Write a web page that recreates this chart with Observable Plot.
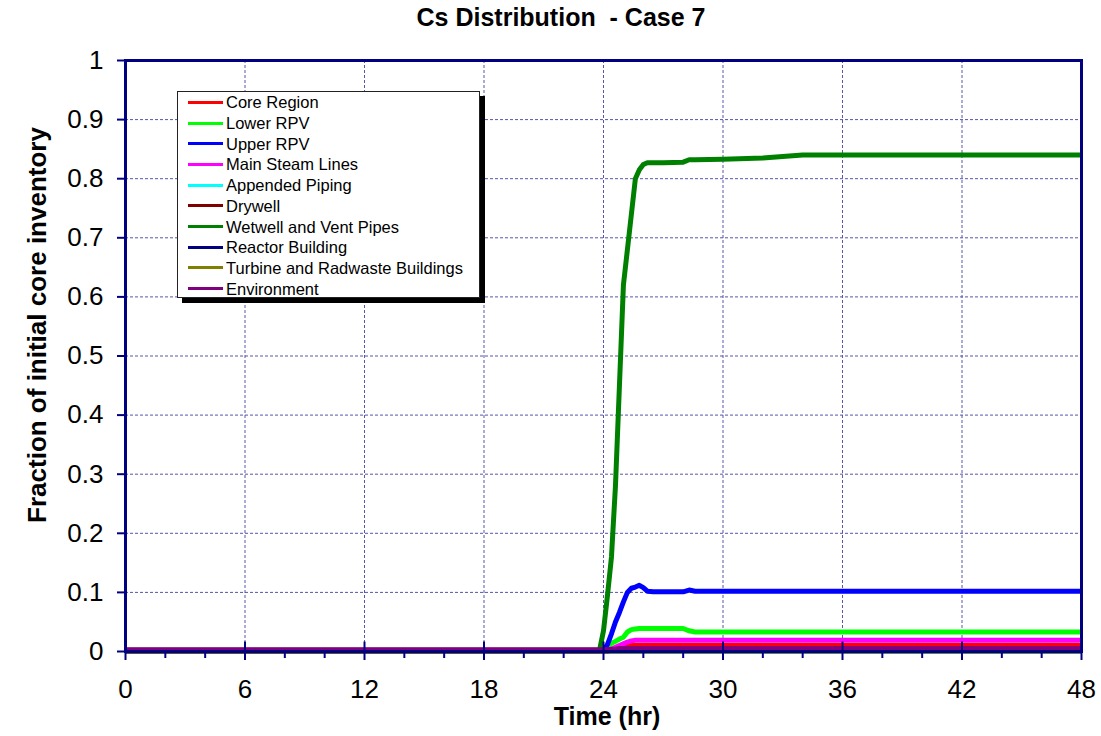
<!DOCTYPE html>
<html><head><meta charset="utf-8">
<script src="https://cdn.jsdelivr.net/npm/d3@7"></script>
<script src="https://cdn.jsdelivr.net/npm/@observablehq/plot@0.6"></script>
<style>
body{margin:0;background:#fff;}
#wrap{position:relative;width:1101px;height:736px;font-family:"Liberation Sans",Arial,sans-serif;overflow:hidden;}
#title{position:absolute;left:0;width:1122px;top:4px;text-align:center;white-space:pre;font-family:"Liberation Sans",Arial,sans-serif;font-weight:bold;font-size:25px;line-height:1.1;}
#ytitle{position:absolute;left:37px;top:325px;transform:translate(-50%,-50%) rotate(-90deg);white-space:nowrap;font-weight:bold;font-size:26px;line-height:1;}
#xtitle{position:absolute;left:607px;top:704px;transform:translateX(-50%);white-space:nowrap;font-weight:bold;font-size:25px;line-height:1;}
#legend{position:absolute;left:177px;top:91px;width:301px;height:205px;border:1px solid #222;background:#fff;box-shadow:5px 5px 0 #000;}
.row{position:absolute;left:0;height:20px;font-size:16.5px;line-height:20px;white-space:nowrap;}
.row span.sw{position:absolute;left:10px;top:8.5px;width:35px;height:3px;}
.row span.tx{position:absolute;left:48px;top:0;}
#chart{position:absolute;left:0;top:0;}
</style></head>
<body>
<div id="wrap">
  <div id="chart"></div>
  <div id="title">Cs Distribution  - Case 7</div>
  <div id="ytitle">Fraction of initial core inventory</div>
  <div id="xtitle">Time (hr)</div>
  <div id="legend"></div>
</div>
<script>
// ---- data ----
const seriesNames = ["Core Region","Lower RPV","Upper RPV","Main Steam Lines","Appended Piping","Drywell","Wetwell and Vent Pipes","Reactor Building","Turbine and Radwaste Buildings","Environment"];
const seriesColors = ["#ff0000","#00ff00","#0000ff","#ff00ff","#00ffff","#800000","#008000","#000080","#808000","#800080"];

const times        = [0,     23.8,  24.0,  24.2,  24.4,  24.6,  24.8,  25.0,  25.2,  25.4,  25.6,  25.8,  26.0,  26.2,  26.5,  27.0,  28.0,  28.3,  28.6,  30,    32,    34,    36,    42,    48];
const coreRegion   = [0.001, 0.001, 0.001, 0.001, 0.002, 0.003, 0.005, 0.008, 0.009, 0.010, 0.010, 0.010, 0.010, 0.010, 0.010, 0.010, 0.010, 0.010, 0.010, 0.010, 0.010, 0.010, 0.010, 0.010, 0.010];
const lowerRPV     = [0.001, 0.001, 0.002, 0.010, 0.014, 0.017, 0.021, 0.024, 0.033, 0.037, 0.038, 0.039, 0.039, 0.039, 0.039, 0.039, 0.039, 0.035, 0.033, 0.033, 0.033, 0.033, 0.033, 0.033, 0.033];
const upperRPV     = [0.001, 0.001, 0.002, 0.012, 0.030, 0.050, 0.066, 0.084, 0.100, 0.107, 0.109, 0.112, 0.108, 0.102, 0.101, 0.101, 0.101, 0.104, 0.102, 0.102, 0.102, 0.102, 0.102, 0.102, 0.102];
const mainSteam    = [0.001, 0.001, 0.001, 0.002, 0.004, 0.007, 0.010, 0.013, 0.016, 0.018, 0.019, 0.019, 0.019, 0.019, 0.019, 0.019, 0.019, 0.019, 0.019, 0.019, 0.019, 0.019, 0.019, 0.019, 0.019];
const appended     = [0.001, 0.001, 0.001, 0.001, 0.001, 0.001, 0.001, 0.001, 0.001, 0.001, 0.001, 0.001, 0.001, 0.001, 0.001, 0.001, 0.001, 0.001, 0.001, 0.001, 0.001, 0.001, 0.001, 0.001, 0.001];
const drywell      = [0.001, 0.001, 0.001, 0.001, 0.002, 0.002, 0.003, 0.003, 0.003, 0.003, 0.003, 0.003, 0.003, 0.003, 0.003, 0.003, 0.003, 0.003, 0.003, 0.003, 0.003, 0.003, 0.003, 0.003, 0.003];
const wetwell      = [0.002, 0.002, 0.035, 0.095, 0.160, 0.280, 0.450, 0.620, 0.680, 0.740, 0.800, 0.815, 0.824, 0.827, 0.827, 0.827, 0.828, 0.832, 0.832, 0.833, 0.835, 0.840, 0.840, 0.840, 0.840];
const reactorBldg  = [0.001, 0.001, 0.001, 0.001, 0.001, 0.001, 0.001, 0.001, 0.001, 0.001, 0.001, 0.001, 0.001, 0.001, 0.001, 0.001, 0.001, 0.001, 0.001, 0.001, 0.001, 0.001, 0.001, 0.001, 0.001];
const turbineBldg  = [0.001, 0.001, 0.001, 0.001, 0.001, 0.001, 0.001, 0.001, 0.001, 0.001, 0.001, 0.001, 0.001, 0.001, 0.001, 0.001, 0.001, 0.001, 0.001, 0.001, 0.001, 0.001, 0.001, 0.001, 0.001];
const environment  = [0.003, 0.003, 0.003, 0.003, 0.004, 0.004, 0.005, 0.005, 0.005, 0.005, 0.005, 0.005, 0.005, 0.005, 0.005, 0.005, 0.005, 0.005, 0.005, 0.005, 0.005, 0.005, 0.005, 0.005, 0.005];

const xTicks = [0, 6, 12, 18, 24, 30, 36, 42, 48];
const xMinorTicks = [2, 4, 8, 10, 14, 16, 20, 22, 26, 28, 32, 34, 38, 40, 44, 46];
const yTicks = [0, 0.1, 0.2, 0.3, 0.4, 0.5, 0.6, 0.7, 0.8, 0.9, 1];

// ---- build table ----
const seriesValues = [coreRegion, lowerRPV, upperRPV, mainSteam, appended, drywell, wetwell, reactorBldg, turbineBldg, environment];
const data = seriesNames.flatMap((name, k) => times.map((t, i) => ({t, v: seriesValues[k][i], name})));

const navy = "#000080";
const chart = Plot.plot({
  width: 1101, height: 736,
  marginLeft: 125, marginRight: 20, marginTop: 60, marginBottom: 85,
  x: {domain: [0, 48]},
  y: {domain: [0, 1]},
  color: {domain: seriesNames, range: seriesColors},
  style: {fontFamily: "'Liberation Sans', Arial, sans-serif", fontSize: "26px", color: "#000", background: "transparent"},
  marks: [
    Plot.gridX(xTicks, {stroke: "#5656aa", strokeOpacity: 1, strokeWidth: 1, strokeDasharray: "3,2"}),
    Plot.gridY(yTicks, {stroke: "#5656aa", strokeOpacity: 1, strokeWidth: 1, strokeDasharray: "3,2"}),
    Plot.line(data, {x: "t", y: "v", z: "name", stroke: "name", strokeWidth: 5, strokeLinejoin: "round", strokeLinecap: "butt"}),
    Plot.frame({stroke: navy, strokeWidth: 3}),
    Plot.ruleX(xTicks, {y1: 0, y2: 0.016, stroke: navy, strokeWidth: 2}),
    Plot.axisX(xMinorTicks, {tickSize: 7, tickFormat: () => "", stroke: navy, strokeWidth: 2, label: null}),
    Plot.axisX(xTicks, {tickSize: 9, tickPadding: 19, stroke: navy, strokeWidth: 2, fill: "#000", label: null, fontSize: 26}),
    Plot.axisY(yTicks, {tickSize: 8, tickPadding: 14, stroke: navy, strokeWidth: 2, fill: "#000", label: null, fontSize: 26,
      tickFormat: d => String(+d.toFixed(1))})
  ]
});
document.getElementById("chart").appendChild(chart);

// ---- legend ----
const legend = d3.select("#legend");
seriesNames.forEach((name, i) => {
  const row = legend.append("div").attr("class", "row").style("top", (0.3 + i * 20.7) + "px");
  row.append("span").attr("class", "sw").style("background", seriesColors[i]);
  row.append("span").attr("class", "tx").text(name);
});
</script>
</body></html>
